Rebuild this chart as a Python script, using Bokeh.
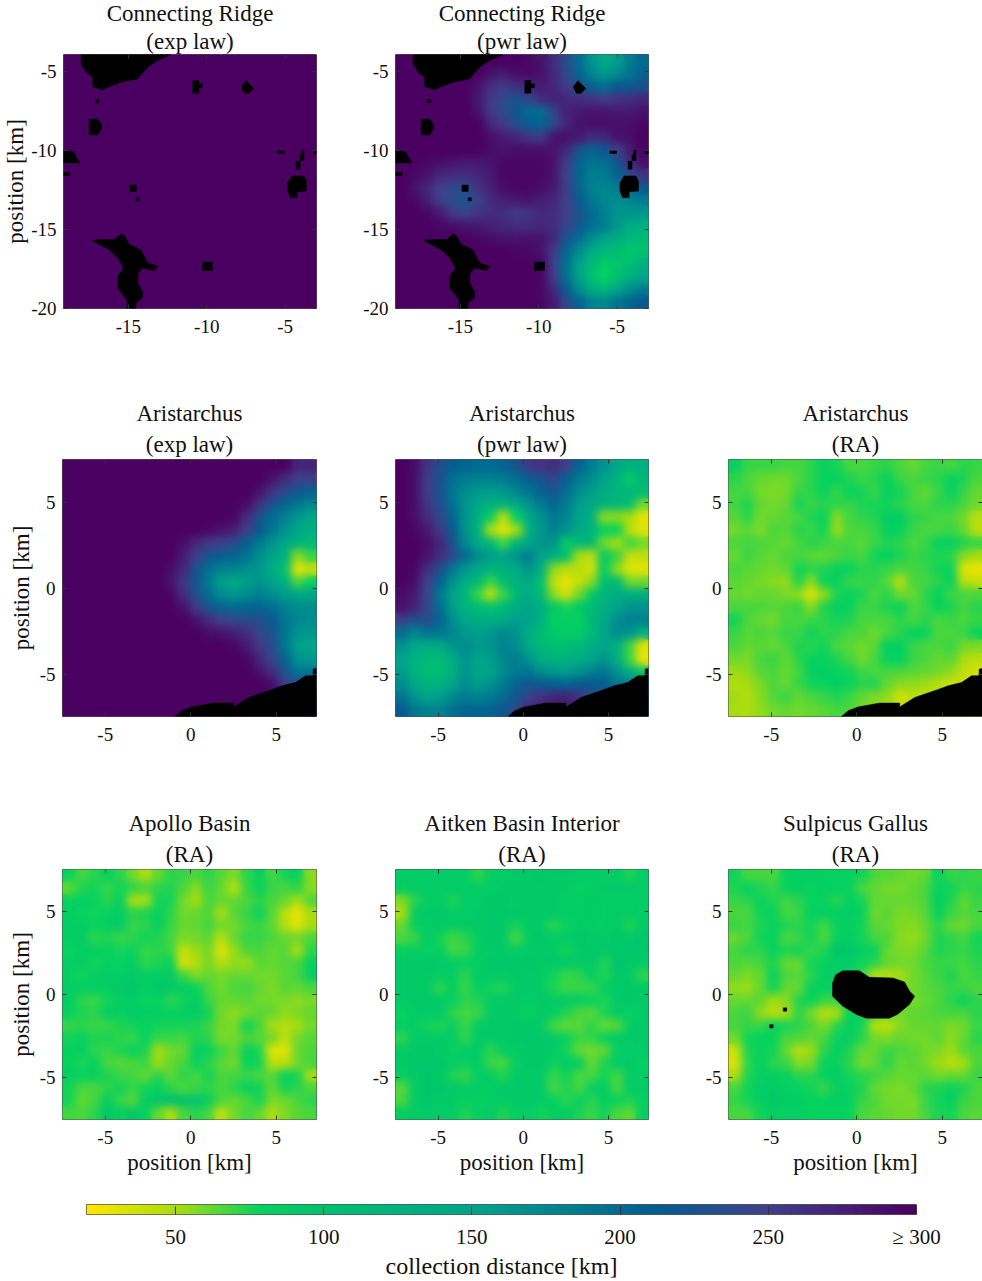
import numpy as np
from bokeh.plotting import figure
from bokeh.layouts import column, row, Spacer
from bokeh.models import (LinearColorMapper, Range1d, FixedTicker, Title, CustomJS, LinearAxis)
from bokeh.io import curdoc
from bokeh.embed import file_html
from bokeh.resources import INLINE

FONT = "Liberation Serif"

# ---- collection distance grids [km], rows listed top to bottom ----
cr_exp = [[300, 300], [300, 300]]

cr_pwr = [
[300,300,300,300,300,300,300,300,300,300,295,285,265,235,195,165,140,155,185,200],
[300,300,300,300,300,300,300,285,280,290,295,285,270,240,205,175,160,170,190,205],
[300,300,300,300,300,300,285,265,255,265,270,280,270,255,230,205,195,215,215,225],
[300,300,300,300,300,300,280,255,240,225,240,265,275,270,265,260,255,260,265,270],
[300,300,300,300,300,300,285,255,240,215,200,195,240,275,280,285,285,280,280,285],
[300,300,300,300,300,300,300,270,255,235,210,205,235,270,285,290,290,290,290,295],
[300,300,300,300,300,300,300,290,280,270,260,255,285,290,280,265,270,285,290,300],
[300,300,300,300,300,300,300,290,285,290,290,290,285,270,225,205,215,250,280,295],
[300,300,295,290,285,280,280,285,295,295,295,295,285,255,205,190,195,220,265,290],
[300,295,285,270,265,265,270,280,295,295,295,295,285,250,205,180,185,205,240,260],
[300,285,270,250,240,235,260,275,290,295,295,290,280,255,205,180,175,185,200,215],
[300,295,275,250,235,225,245,265,275,280,285,275,270,250,215,190,175,170,175,185],
[300,300,295,280,255,245,260,265,265,255,260,270,265,250,225,200,180,165,165,160],
[300,300,300,295,290,285,280,275,270,265,265,270,265,245,220,195,185,160,135,130],
[300,300,300,300,300,300,295,290,285,285,290,285,270,225,195,170,150,135,115,110],
[300,300,300,300,300,300,300,300,300,295,295,285,255,205,170,140,120,105,90,100],
[300,300,300,300,300,300,300,300,300,300,300,295,250,195,150,110,85,95,100,130],
[300,300,300,300,300,300,300,300,300,300,300,295,255,195,150,105,78,100,130,150],
[300,300,300,300,300,300,300,300,300,300,300,295,270,215,170,135,120,145,170,185],
[300,300,300,300,300,300,300,300,300,300,300,295,280,240,205,180,175,190,205,215],
]

ari_exp = [
[300,300,300,300,300,300,300,300,300,300,300,300,300,300,300,300,300,300,270,270],
[300,300,300,300,300,300,300,300,300,300,300,300,300,300,300,300,285,265,250,250],
[300,300,300,300,300,300,300,300,300,300,300,300,300,300,300,285,260,235,215,205],
[300,300,300,300,300,300,300,300,300,300,300,300,300,300,290,260,225,205,190,175],
[300,300,300,300,300,300,300,300,300,300,300,300,300,295,265,225,200,180,160,145],
[300,300,300,300,300,300,300,300,300,300,300,295,285,275,250,215,190,165,145,130],
[300,300,300,300,300,300,300,300,300,290,270,255,250,235,210,185,165,145,125,110],
[300,300,300,300,300,300,300,300,300,280,250,225,210,205,190,170,150,125,55,70],
[300,300,300,300,300,300,300,300,290,270,225,195,180,175,170,160,140,95,28,40],
[300,300,300,300,300,300,300,300,285,260,220,185,155,140,155,165,150,130,65,80],
[300,300,300,300,300,300,300,300,295,265,230,195,170,160,170,180,170,155,145,145],
[300,300,300,300,300,300,300,300,300,285,255,225,205,200,205,205,195,180,170,170],
[300,300,300,300,300,300,300,300,300,300,285,265,250,240,235,230,215,190,175,170],
[300,300,300,300,300,300,300,300,300,300,300,290,285,275,265,245,225,190,165,160],
[300,300,300,300,300,300,300,300,300,300,300,300,300,295,280,255,235,190,155,145],
[300,300,300,300,300,300,300,300,300,300,300,300,300,300,295,270,245,205,165,160],
[300,300,300,300,300,300,300,300,300,300,300,300,300,300,300,285,265,225,190,190],
[300,300,300,300,300,300,300,300,300,300,300,300,300,300,300,300,290,250,230,230],
[300,300,300,300,300,300,300,300,300,300,300,300,300,300,300,300,300,300,300,300],
[300,300,300,300,300,300,300,300,300,300,300,300,300,300,300,300,300,300,300,300],
]

ari_pwr = [
[300,290,260,230,210,205,200,200,205,225,255,260,265,250,205,185,165,145,125,130],
[300,290,255,225,195,185,180,180,185,195,210,225,240,210,185,170,150,125,85,120],
[300,290,255,225,190,170,160,155,160,175,190,205,225,195,170,155,135,120,115,110],
[300,290,260,230,195,165,140,130,125,140,165,185,205,185,155,140,125,115,105,60],
[300,290,265,240,205,165,130,80,45,80,140,165,190,175,150,130,55,55,50,30],
[300,295,280,255,215,165,125,50,30,50,125,160,180,165,145,125,80,80,45,30],
[300,300,290,270,225,175,140,115,70,120,145,165,165,85,110,115,60,50,70,60],
[300,300,285,265,240,200,170,155,150,165,185,150,130,100,50,42,90,70,40,42],
[300,295,265,230,190,160,140,125,125,140,165,130,55,45,45,35,85,55,30,30],
[300,290,250,205,165,135,115,70,105,125,140,100,40,28,40,55,100,110,60,60],
[290,280,245,190,150,120,70,42,70,120,140,110,55,35,60,85,120,135,130,130],
[285,275,245,195,155,125,105,95,110,135,150,130,90,75,90,110,130,150,165,165],
[250,225,235,205,170,145,135,130,140,155,150,130,80,85,78,115,140,170,180,180],
[195,175,190,190,175,160,155,160,175,165,135,105,90,85,85,110,150,170,165,130],
[165,140,135,140,165,170,160,165,180,170,140,115,100,105,115,130,145,130,70,30],
[150,125,110,110,135,165,150,155,175,185,165,135,125,125,135,150,165,130,70,28],
[155,125,105,105,130,165,145,150,170,185,190,170,160,155,165,180,190,165,130,90],
[170,140,125,125,150,170,155,165,185,205,220,215,210,205,215,215,210,190,180,180],
[190,165,150,155,175,185,180,185,200,220,250,260,270,275,260,240,230,220,200,200],
[215,190,180,180,195,205,205,205,220,240,270,280,290,280,270,250,240,230,200,200],
]

ari_ra = [
[82,70,70,70,68,68,72,78,75,68,68,70,72,66,62,68,70,68,72,70],
[72,66,62,60,60,66,72,78,80,74,70,72,78,70,66,70,72,78,75,66],
[68,68,60,58,60,70,72,80,70,78,76,70,82,76,68,62,70,80,70,62],
[68,75,62,60,62,76,70,72,72,70,74,75,76,72,68,66,72,72,68,60],
[64,72,60,62,64,68,74,78,56,68,72,74,84,84,72,70,68,66,60,45],
[60,64,58,66,64,72,70,76,52,66,66,70,82,78,70,66,68,70,62,44],
[66,68,66,64,62,68,72,70,66,68,64,70,74,72,66,70,80,80,74,70],
[62,70,64,62,66,68,64,62,66,70,68,76,82,74,70,72,74,72,55,50],
[66,64,62,60,62,76,72,74,80,78,72,72,70,66,68,70,76,78,32,28],
[64,62,60,55,54,74,55,78,80,70,70,72,64,44,66,68,72,80,45,40],
[62,60,62,62,58,55,32,55,74,78,74,66,72,60,62,72,80,70,66,66],
[66,68,66,64,66,70,55,74,84,78,70,70,74,78,66,70,78,74,68,72],
[76,66,62,60,68,66,70,72,76,74,66,68,66,72,68,72,66,70,66,70],
[70,64,66,64,70,70,76,72,72,66,66,60,68,72,80,78,66,66,70,78],
[66,62,64,62,66,74,72,76,66,64,60,64,82,84,70,66,66,70,60,58],
[60,58,66,70,62,72,78,78,74,68,60,68,80,78,70,66,62,64,50,45],
[52,56,64,66,62,68,84,84,78,76,70,66,68,66,64,62,60,54,42,35],
[48,50,58,66,62,70,76,80,82,80,72,74,62,56,54,52,46,38,38,38],
[52,46,56,64,70,62,66,70,74,70,62,58,54,36,44,40,40,40,40,40],
[50,48,54,60,62,60,62,64,68,66,60,56,50,44,40,40,40,40,40,40],
]

apollo_ra = [
[78,68,72,78,72,60,48,62,72,70,66,72,64,58,72,82,68,76,80,55],
[62,74,76,70,76,72,66,72,74,66,56,70,62,46,70,82,70,66,72,55],
[80,82,80,72,84,48,48,76,76,60,50,68,62,62,66,72,66,62,48,66],
[82,78,76,78,84,72,74,80,72,60,62,66,50,64,70,78,64,45,26,50],
[84,86,78,84,88,70,72,82,70,62,62,68,60,60,68,70,64,45,30,50],
[84,88,72,74,70,72,76,74,68,58,60,64,45,62,70,70,66,62,60,66],
[78,84,84,78,76,78,70,72,70,40,52,60,32,52,66,66,62,64,48,72],
[82,86,76,82,78,84,72,74,80,35,46,60,46,54,52,64,62,64,66,80],
[84,76,84,86,86,88,86,86,90,70,58,62,60,62,62,60,60,64,68,84],
[84,84,82,84,88,90,84,90,88,84,80,66,60,66,68,62,58,64,62,66],
[86,72,70,76,84,88,78,78,72,76,86,70,62,62,64,60,60,58,56,58],
[78,74,72,84,82,88,84,84,80,84,88,76,60,56,60,64,62,54,58,62],
[70,72,70,70,74,76,80,76,76,76,74,70,60,58,78,66,50,46,50,60],
[76,82,74,74,72,70,78,70,70,68,74,72,58,60,66,64,60,42,60,64],
[82,84,72,70,74,82,74,50,60,62,84,80,70,62,82,74,30,30,62,66],
[78,74,78,68,64,66,70,52,62,66,78,72,64,60,78,76,45,45,60,68],
[84,78,82,74,70,68,62,72,62,72,66,76,66,68,70,66,64,82,76,48],
[76,66,66,72,76,70,76,80,72,66,70,72,66,72,78,76,62,76,72,66],
[76,62,68,84,70,64,84,94,100,102,96,84,66,62,66,76,58,60,66,72],
[68,66,72,90,82,90,80,62,48,66,72,68,42,60,68,62,48,58,64,66],
]

aitken_ra = [
[86,86,86,86,86,86,72,84,86,88,88,90,88,88,86,86,86,86,74,86],
[84,86,86,86,86,86,86,84,88,88,88,88,88,88,80,86,88,88,88,86],
[58,72,86,88,74,86,86,90,90,88,88,88,88,86,84,88,86,86,86,86],
[50,84,88,88,86,86,88,92,92,90,88,88,88,86,86,88,84,88,84,86],
[62,84,86,88,88,88,88,92,90,76,88,88,72,78,88,86,84,88,74,88],
[66,70,88,76,68,72,86,90,90,68,88,90,86,88,90,88,88,90,90,92],
[82,84,80,80,68,70,84,88,90,84,88,88,88,76,88,90,90,92,92,94],
[88,88,90,88,86,82,82,90,92,90,90,88,90,90,88,90,74,96,90,86],
[88,88,88,86,84,72,88,88,88,90,88,88,76,70,72,84,74,90,88,72],
[88,88,88,72,86,70,86,76,74,88,88,88,74,70,70,70,84,88,90,88],
[88,88,88,88,82,72,74,86,88,88,86,88,88,86,88,80,74,88,90,88],
[78,88,88,88,72,68,70,88,88,88,78,88,86,74,66,64,74,88,78,88],
[86,86,76,74,84,70,88,88,88,90,90,88,68,62,64,72,62,64,88,88],
[72,88,88,88,84,72,88,88,88,90,92,92,88,80,70,70,80,88,88,88],
[88,90,90,88,80,88,88,72,84,88,92,92,88,76,62,60,62,82,86,88],
[88,92,92,90,86,82,86,70,68,84,90,90,78,86,86,62,74,88,88,82],
[84,88,94,90,74,70,84,86,74,88,88,88,70,76,66,66,76,68,88,86],
[64,86,94,92,88,86,86,84,88,88,88,88,68,74,68,82,86,68,86,88],
[66,88,90,88,88,84,80,84,88,88,88,86,82,72,84,72,84,80,74,84],
[86,86,88,86,86,74,84,88,74,84,88,76,84,86,74,70,76,66,62,84],
]

sulpicus_ra = [
[76,68,68,66,78,84,82,78,78,80,76,66,64,62,60,62,80,70,72,70],
[74,80,74,70,80,84,80,82,80,80,68,62,60,60,62,66,80,76,70,72],
[70,72,78,74,68,72,78,80,72,82,76,62,62,62,62,66,84,74,62,70],
[66,66,76,78,68,70,82,82,82,84,80,60,64,58,60,64,78,70,64,68],
[70,68,74,80,74,72,76,68,80,82,76,64,62,58,56,62,72,62,60,66],
[62,66,76,80,66,70,76,66,78,86,76,68,66,56,54,60,74,72,68,76],
[68,72,72,78,74,76,70,74,98,92,84,80,62,58,58,64,74,72,70,74],
[66,64,68,74,62,62,76,80,84,86,76,72,62,60,60,66,70,70,68,72],
[62,58,62,78,66,64,72,84,84,80,70,44,46,50,60,64,70,74,66,70],
[54,52,62,76,62,62,78,82,78,80,72,62,66,58,60,64,66,70,70,66],
[62,62,64,50,56,74,78,70,70,74,76,66,70,62,60,62,66,72,78,72],
[66,70,54,46,50,72,60,46,48,78,80,70,62,60,62,64,66,68,66,72],
[68,70,70,78,76,72,66,58,72,84,76,44,42,56,62,62,62,58,60,70],
[60,76,78,78,66,66,62,68,78,84,72,60,58,62,60,60,64,56,62,72],
[38,74,78,76,62,44,52,72,84,74,62,62,70,66,64,60,58,52,64,66],
[34,72,82,72,70,56,60,78,80,72,60,62,72,62,64,60,52,44,50,66],
[48,74,82,82,80,72,72,82,84,76,72,70,64,62,62,64,60,62,62,70],
[68,76,84,88,82,78,76,70,84,80,74,62,60,58,62,72,74,80,74,66],
[70,76,84,90,84,84,80,78,84,82,70,66,60,60,58,70,76,82,70,66],
[66,68,76,84,82,82,78,78,80,78,66,64,62,60,60,68,74,76,66,64],
]

# ---- regions with no data (black), vertices in km ----
cr_mask_x = [
[-18.02,-12.29,-13.14,-13.77,-14.41,-15.47,-16.32,-16.64,-17.27,-17.27,-17.70,-18.02],
[-10.89,-10.5,-10.5,-10.27,-10.27,-10.5,-10.5,-10.89],
[-7.8,-7.5,-7.3,-7.0,-7.3,-7.6],
[-17.1,-16.9,-16.9,-17.1],
[-17.5,-16.95,-16.7,-16.7,-16.95,-17.5],
[-19.14,-18.5,-18.1,-19.14],
[-19.14,-18.72,-18.72,-19.14],
[-14.9,-14.5,-14.5,-14.9],
[-14.5,-14.3,-14.3,-14.5],
[-5.46,-5.04,-5.04,-5.46],
[-3.95,-3.8,-3.8,-4.05,-4.05,-4.3,-4.3,-4.05,-4.05,-3.95],
[-3.2,-3.0,-3.0,-3.2],
[-4.55,-3.81,-3.64,-3.64,-4.23,-4.23,-4.65,-4.82,-4.82],
[-15.43,-15.22,-14.94,-14.2,-13.77,-13.1,-13.35,-14.09,-14.37,-14.41,-14.09,-14.09,-14.52,-14.52,-15.09,-15.09,-15.68,-15.68,-15.3,-15.68,-16.21,-16.85,-17.34,-16.74,-15.9],
[-10.27,-9.64,-9.64,-10.27],
]
cr_mask_y = [
[-3.95,-3.95,-4.33,-4.75,-5.49,-5.70,-6.02,-6.19,-5.98,-5.39,-5.07,-4.54],
[-5.6,-5.6,-5.8,-5.8,-6.05,-6.05,-6.4,-6.4],
[-6.0,-5.6,-5.8,-6.1,-6.4,-6.4],
[-6.8,-6.8,-7.0,-7.0],
[-8.03,-8.03,-8.4,-8.6,-9.03,-9.03],
[-10.0,-10.1,-10.8,-10.8],
[-11.4,-11.4,-11.6,-11.6],
[-12.2,-12.2,-12.6,-12.6],
[-13.0,-13.0,-13.2,-13.2],
[-10.04,-10.04,-10.2,-10.2],
[-10,-10,-10.65,-10.65,-11.2,-11.2,-10.7,-10.7,-10.3,-10.3],
[-10.05,-10.05,-10.2,-10.2],
[-11.62,-11.62,-11.94,-12.58,-12.62,-13.0,-13.0,-12.58,-12.05],
[-15.26,-15.43,-15.96,-16.28,-17.12,-17.33,-17.6,-17.44,-17.76,-18.39,-18.92,-19.34,-19.66,-20,-20,-19.45,-18.71,-17.97,-17.44,-16.8,-16.28,-15.96,-15.7,-15.64,-15.64],
[-17.06,-17.06,-17.6,-17.6],
]
ari_mask_x = [[-0.90,-0.51,0.07,1.34,2.51,2.51,3.39,3.39,4.66,5.34,6.12,6.71,7.15,7.15,7.35,7.35]]
ari_mask_y = [[-7.47,-7.14,-6.91,-6.69,-6.69,-6.91,-6.36,-6.36,-5.93,-5.68,-5.49,-5.1,-5.1,-4.71,-4.67,-7.47]]
sg_mask_x = [
[-0.83,0.15,0.73,2.11,2.79,3.09,3.38,3.09,2.4,1.91,0.54,-0.05,-0.83,-1.42,-1.42,-1.23],
[-4.3,-4.1,-4.1,-4.3],
[-5.09,-4.89,-4.89,-5.09],
]
sg_mask_y = [
[1.42,1.42,1.03,0.99,0.75,0.2,-0.1,-0.59,-1.18,-1.42,-1.42,-1.18,-0.69,-0.1,0.69,1.18],
[-0.8,-0.8,-1.0,-1.0],
[-1.81,-1.81,-2.01,-2.01],
]

# ---- tick labels ----
cr_x_ticks = [-15, -10, -5]
cr_y_ticks = [-20, -15, -10, -5]
km_ticks = [-5, 0, 5]
cb_ticks = [50, 100, 150, 200, 250, 300]
cb_labels = ["50", "100", "150", "200", "250", "\u2265 300"]

# ---- colour scale ----
stop_v = [20, 50, 78, 100, 150, 190, 212, 250, 300]
stop_c = [(255, 230, 0), (168, 220, 16), (5, 210, 95), (0, 192, 112), (0, 164, 138),
          (0, 118, 145), (4, 92, 144), (64, 64, 138), (74, 0, 96)]
ramp = np.linspace(20, 300, 256)
palette = ["#%02x%02x%02x" % tuple(int(round(np.interp(v, stop_v, [c[k] for c in stop_c]))) for k in range(3))
           for v in ramp]
mapper = LinearColorMapper(palette=palette, low=20, high=300)

FRAME = "#555555"


def style_axis(ax, ticks, size="19px"):
    ax.ticker = FixedTicker(ticks=ticks)
    ax.major_label_overrides = {t: str(t) for t in ticks}
    ax.major_tick_in = 4
    ax.major_tick_out = 0
    ax.minor_tick_in = 0
    ax.minor_tick_out = 0
    ax.major_tick_line_color = "#333333"
    ax.axis_line_color = None
    ax.major_label_text_font = FONT
    ax.major_label_text_font_size = size
    ax.major_label_text_color = "#111111"
    ax.major_label_standoff = 7
    ax.axis_label_text_font = FONT
    ax.axis_label_text_font_style = "normal"
    ax.axis_label_text_font_size = "23px"
    ax.axis_label_text_color = "#111111"


def mirror_axis(ticks):
    ax = LinearAxis(ticker=FixedTicker(ticks=ticks))
    ax.major_label_overrides = {t: "" for t in ticks}
    ax.major_label_standoff = 0
    ax.major_label_text_font_size = "1px"
    ax.major_tick_in = 4
    ax.major_tick_out = 0
    ax.minor_tick_in = 0
    ax.minor_tick_out = 0
    ax.major_tick_line_color = "#333333"
    ax.axis_line_color = None
    return ax


def panel(line1, line2, grid, xr, yr, xt, yt, left, fw, right, top, fh, bottom,
          mask=None, ylabel=False, xlabel=False, lab_off=8, inner=5, outer=3):
    p = figure(width=left + fw + right, height=top + fh + bottom,
               x_range=Range1d(*xr), y_range=Range1d(*yr),
               toolbar_location=None, output_backend="svg",
               min_border_left=left, min_border_right=right,
               min_border_top=top, min_border_bottom=bottom)
    p.grid.visible = False
    p.outline_line_color = FRAME
    p.outline_line_width = 1
    g = np.flipud(np.array(grid, dtype=float))
    # base copy keeps the frame edges filled; the copy above it is softened in the browser
    for _ in range(2):
        p.image(image=[g], x=xr[0], y=yr[0], dw=xr[1] - xr[0], dh=yr[1] - yr[0], color_mapper=mapper)
    if mask is not None:
        p.patches(mask[0], mask[1], fill_color="black", line_color="black", line_width=0.5)
    bottom_axis = p.below[0]
    left_axis = p.left[0]
    style_axis(bottom_axis, xt)
    style_axis(left_axis, yt)
    bottom_axis.major_label_standoff = 11
    if ylabel:
        left_axis.axis_label = "position [km]"
        left_axis.axis_label_standoff = lab_off
    if xlabel:
        bottom_axis.axis_label = "position [km]"
        bottom_axis.axis_label_standoff = 3
    p.add_layout(mirror_axis(yt), "right")
    p.add_layout(mirror_axis(xt), "above")
    for t, off in ((line2, inner), (line1, outer)):
        p.add_layout(Title(text=t, align="center", text_font=FONT, text_font_size="23px",
                           text_font_style="normal", text_color="#111111", standoff=off, offset=0), "above")
    return p


X_ARI = (-7.5, 7.35)
Y_ARI = (-7.47, 7.5)
XCR = (-19.14, -3.0)
YCR = (-20.0, -3.95)
Y_B = (-7.5, 7.5)

cr_mask = (cr_mask_x, cr_mask_y)
ari_mask = (ari_mask_x, ari_mask_y)
sg_mask = (sg_mask_x, sg_mask_y)

a1 = panel("Connecting Ridge", "(exp law)", cr_exp, XCR, YCR, cr_x_ticks, cr_y_ticks, 62, 254, 33, 56, 254, 77, cr_mask, ylabel=True, lab_off=0, inner=2, outer=0)
a2 = panel("Connecting Ridge", "(pwr law)", cr_pwr, XCR, YCR, cr_x_ticks, cr_y_ticks, 46, 253, 34, 56, 254, 77, cr_mask, inner=2, outer=0)
b1 = panel("Aristarchus", "(exp law)", ari_exp, X_ARI, Y_ARI, km_ticks, km_ticks, 62, 254, 33, 74, 257, 79, ari_mask, ylabel=True, lab_off=3)
b2 = panel("Aristarchus", "(pwr law)", ari_pwr, X_ARI, Y_ARI, km_ticks, km_ticks, 46, 253, 34, 74, 257, 79, ari_mask)
b3 = panel("Aristarchus", "(RA)", ari_ra, X_ARI, Y_ARI, km_ticks, km_ticks, 46, 254, 0, 74, 257, 79, ari_mask)
c1 = panel("Apollo Basin", "(RA)", apollo_ra, X_ARI, Y_B, km_ticks, km_ticks, 62, 254, 33, 74, 250, 71, ylabel=True, xlabel=True, lab_off=3)
c2 = panel("Aitken Basin Interior", "(RA)", aitken_ra, X_ARI, Y_B, km_ticks, km_ticks, 46, 253, 34, 72, 253, 70, xlabel=True)
c3 = panel("Sulpicus Gallus", "(RA)", sulpicus_ra, X_ARI, Y_B, km_ticks, km_ticks, 46, 254, 0, 72, 253, 70, sg_mask, xlabel=True)

# ---- colour bar ----
cb = figure(width=982, height=91, x_range=Range1d(20, 300), y_range=Range1d(0, 1),
            toolbar_location=None, output_backend="svg",
            min_border_left=86, min_border_right=66, min_border_top=14, min_border_bottom=63)
cb.grid.visible = False
cb.yaxis.visible = False
cb.outline_line_color = FRAME
cb.image(image=[ramp.reshape(1, -1)], x=20, y=0, dw=280, dh=1, color_mapper=mapper)
ax = cb.below[0]
style_axis(ax, cb_ticks, size="21px")
ax.major_tick_in = 8
ax.major_label_overrides = dict(zip(cb_ticks, cb_labels))
ax.major_label_standoff = 10
ax.axis_label = "collection distance [km]"
ax.axis_label_text_font_size = "24px"
ax.axis_label_standoff = 1

layout = column(
    row(a1, a2, Spacer(width=300, height=387), spacing=0, margin=(-2, 0, 0, 0)),
    row(b1, b2, b3, spacing=0),
    row(c1, c2, c3, spacing=0),
    cb,
    spacing=0,
)

smooth_js = """
function apply(root){
  root.querySelectorAll('*').forEach(el => {
    if(el.shadowRoot){ apply(el.shadowRoot); }
    if(el.tagName && el.tagName.toLowerCase() === 'svg'){
      const imgs = el.querySelectorAll('image');
      imgs.forEach((im, i) => { if(i > 0){ im.style.filter = 'blur(4px)'; } });
    }
  });
}
apply(document);
let n = 0;
const h = setInterval(() => { apply(document); if(++n > 20){ clearInterval(h); } }, 100);
"""
doc = curdoc()
doc.add_root(layout)
doc.js_on_event("document_ready", CustomJS(code=smooth_js))

open("out.html", "w").write(file_html(layout, INLINE))
